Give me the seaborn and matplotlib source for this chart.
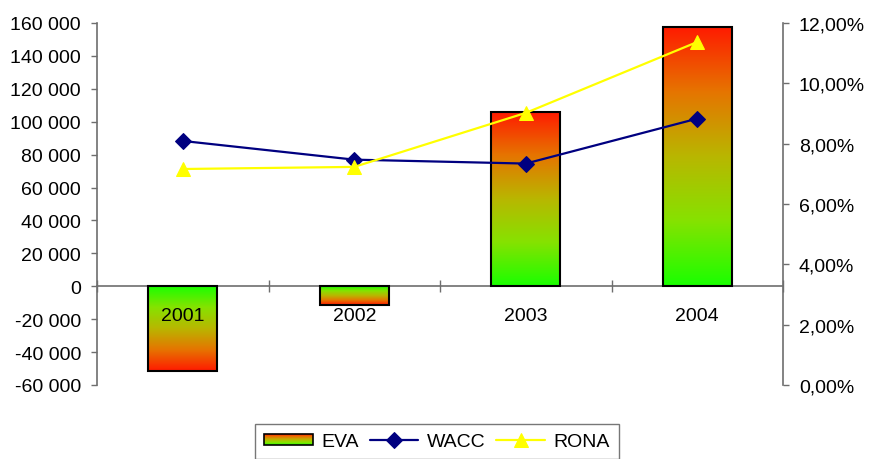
import numpy as np
import pandas as pd
import matplotlib
matplotlib.use("Agg")
import matplotlib.pyplot as plt
import seaborn as sns
from matplotlib.colors import LinearSegmentedColormap
from matplotlib.patches import Rectangle
from matplotlib.legend_handler import HandlerBase
from matplotlib.ticker import FuncFormatter, MultipleLocator

# Data
years = ["2001", "2002", "2003", "2004"]
eva = [-51500, -11500, 106200, 157600]
wacc = [8.09, 7.47, 7.34, 8.83]
rona = [7.16, 7.23, 9.02, 11.37]

sns.set_theme(style="white")
plt.rcParams["font.family"] = ["Liberation Sans", "DejaVu Sans"]
plt.rcParams["text.color"] = "black"

FS = 14.0
AXIS_GREY = "#6e6e6e"

# green (near zero) -> red (far end of the bar)
grad = LinearSegmentedColormap.from_list(
    "eva_grad", ["#1aff00", "#86e200", "#b9b600", "#e67400", "#ff1a00"]
)

fig = plt.figure(figsize=(8.71, 4.60), dpi=100)
ax = fig.add_axes([97 / 871, 74 / 460, 686 / 871, 362 / 460])

df = pd.DataFrame({"year": years, "EVA": eva})
sns.barplot(data=df, x="year", y="EVA", ax=ax, width=0.4, fill=False,
            color="black", linewidth=1.5, errorbar=None, zorder=3)

# gradient fill inside each bar
col = np.linspace(0, 1, 256).reshape(-1, 1)
for p in ax.patches:
    x0, w = p.get_x(), p.get_width()
    y, h = p.get_y(), p.get_height()
    lo, hi = min(y, y + h), max(y, y + h)
    arr = col if h >= 0 else col[::-1]
    ax.imshow(arr, cmap=grad, vmin=0, vmax=1, extent=(x0, x0 + w, lo, hi),
              origin="lower", aspect="auto", interpolation="bilinear", zorder=0.9)

ax.set_xlim(-0.5, 3.5)
ax.set_ylim(-60000, 160000)
ax.set_xlabel("")
ax.set_ylabel("")

ax.yaxis.set_major_locator(MultipleLocator(20000))
ax.yaxis.set_major_formatter(FuncFormatter(lambda v, _: f"{int(round(v)):,}".replace(",", " ")))

ax.set_xticks([-0.5, 0.5, 1.5, 2.5, 3.5])
ax.set_xticklabels([])
ax.set_xticks(range(len(years)), minor=True)
ax.set_xticklabels(years, minor=True)
ax.tick_params(axis="x", which="major", direction="inout", length=8.6, width=1,
               color=AXIS_GREY, bottom=True)
ax.tick_params(axis="x", which="minor", length=0, pad=15, labelsize=FS,
               labelcolor="black", bottom=True)
ax.tick_params(axis="y", which="major", direction="out", length=4.5, width=1,
               color=AXIS_GREY, left=True, labelsize=FS, labelcolor="black", pad=7)
# year labels sit on top of the bar fills
ax.xaxis.set_zorder(3.5)

for s in ("top", "right"):
    ax.spines[s].set_visible(False)
ax.spines["bottom"].set_position(("data", 0))
for s in ("left", "bottom"):
    ax.spines[s].set_color(AXIS_GREY)
    ax.spines[s].set_linewidth(1.2)

# rates on the secondary axis
ax2 = ax.twinx()
x_pos = np.arange(len(years))
sns.lineplot(x=x_pos, y=wacc, ax=ax2, color="#000080", marker="D", markersize=8,
             markeredgecolor="#000080", linewidth=1.6, label="WACC")
sns.lineplot(x=x_pos, y=rona, ax=ax2, color="#ffff00", marker="^", markersize=10,
             markeredgecolor="#ffff00", linewidth=1.6, label="RONA")
ax2.set_ylim(0, 12)
ax2.set_xlim(-0.5, 3.5)
ax2.yaxis.set_major_locator(MultipleLocator(2))
ax2.yaxis.set_major_formatter(FuncFormatter(lambda v, _: f"{v:.2f}".replace(".", ",") + "%"))
ax2.tick_params(axis="y", which="major", direction="out", length=4.5, width=1,
                color=AXIS_GREY, right=True, labelsize=FS, labelcolor="black", pad=7)
ax2.set_ylabel("")
for s in ("top", "left", "bottom"):
    ax2.spines[s].set_visible(False)
ax2.spines["right"].set_color(AXIS_GREY)
ax2.spines["right"].set_linewidth(1.2)
if ax2.get_legend() is not None:
    ax2.get_legend().remove()


class GradientHandler(HandlerBase):
    def create_artists(self, legend, orig_handle, xdescent, ydescent,
                       width, height, fontsize, trans):
        n = 30
        h = height * 0.85
        y0 = -ydescent + (height - h) / 2
        arts = []
        for i in range(n):
            arts.append(Rectangle((-xdescent, y0 + i * h / n), width, h / n + 0.01,
                                  facecolor=grad((i + 0.5) / n), edgecolor="none",
                                  transform=trans))
        arts.append(Rectangle((-xdescent, y0), width, h, facecolor="none",
                              edgecolor="black", linewidth=1.2, transform=trans))
        return arts


eva_handle = Rectangle((0, 0), 1, 1)
line_handles = ax2.get_lines()[:2]
leg = fig.legend([eva_handle] + list(line_handles), ["EVA", "WACC", "RONA"],
                 handler_map={Rectangle: GradientHandler()},
                 loc="upper center", bbox_to_anchor=(437 / 871, 1 - 425 / 460),
                 ncol=3, frameon=True, fancybox=False, fontsize=FS,
                 handlelength=2.5, handletextpad=0.45, columnspacing=0.55,
                 borderpad=0.45, borderaxespad=0)
for t in leg.get_texts():
    t.set_color("black")
leg.get_frame().set_edgecolor("#555555")
leg.get_frame().set_linewidth(1.0)
leg.get_frame().set_facecolor("white")

fig.savefig("out.png", dpi=100)
